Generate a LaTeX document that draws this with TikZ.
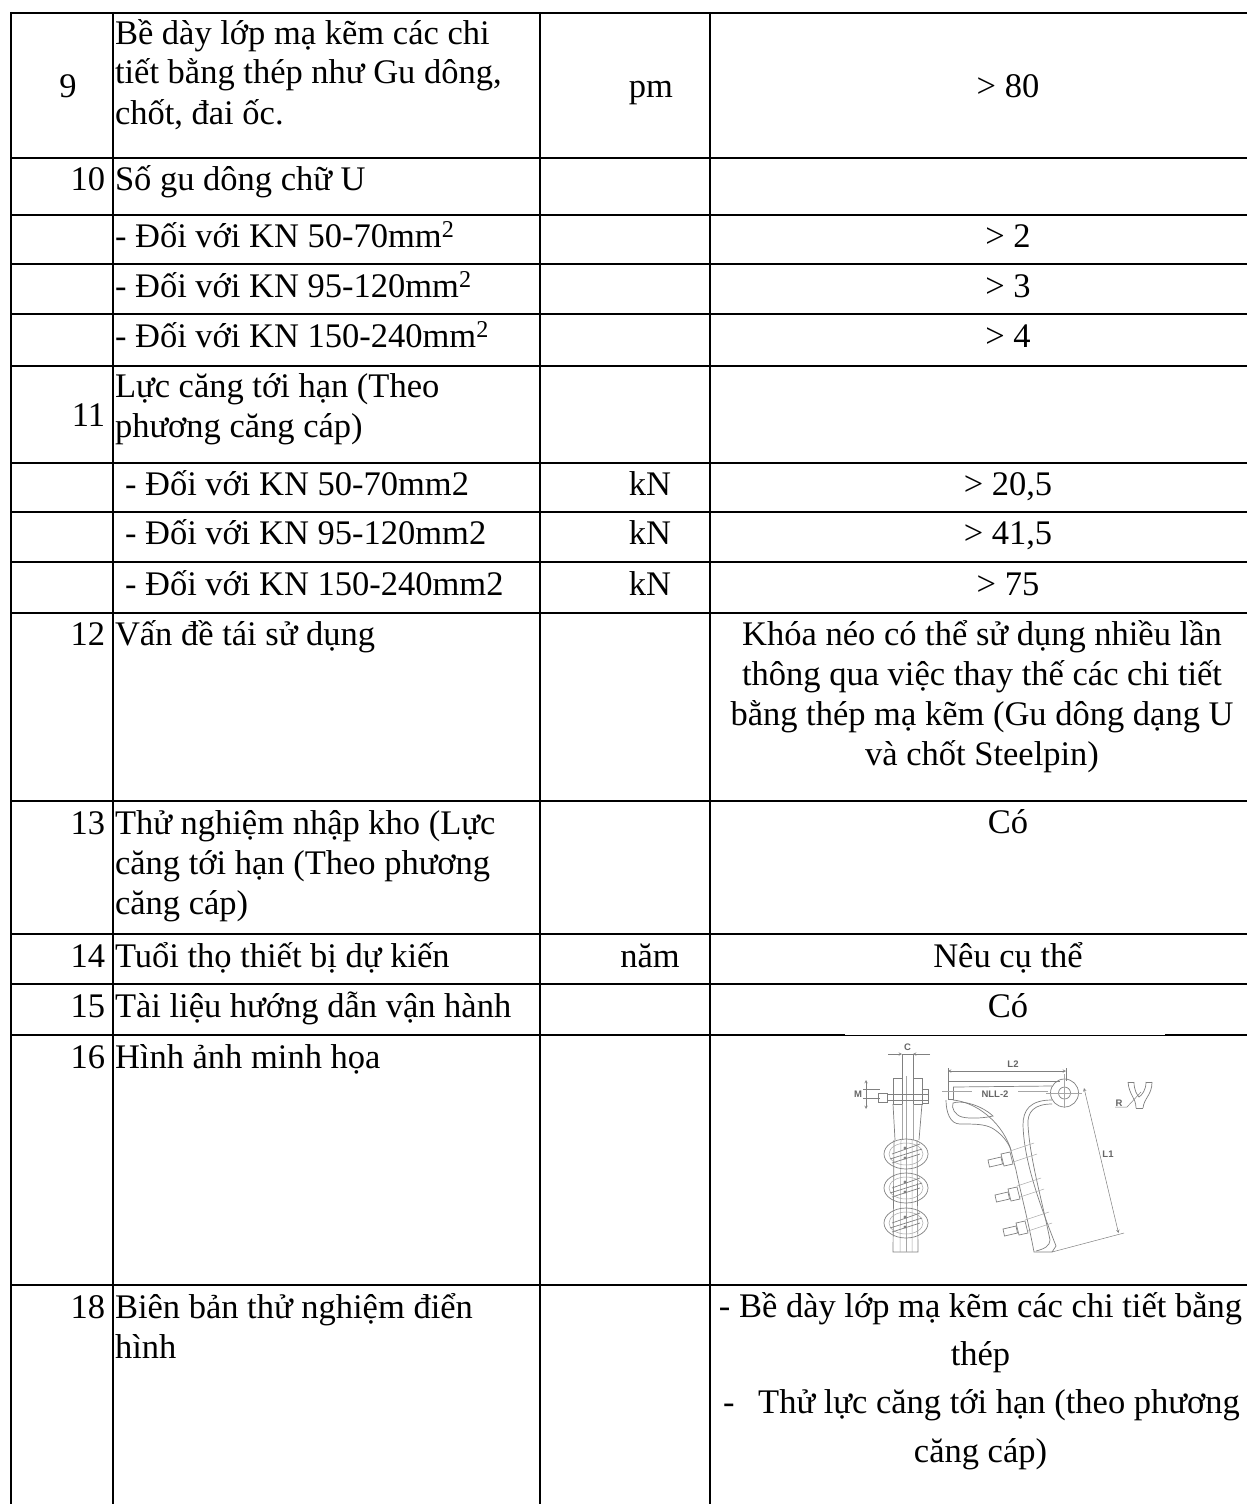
\documentclass[tikz,border=0pt]{standalone}
\usepackage{fontspec}
\setmainfont{Liberation Serif}
\newfontfamily\labelfont{Liberation Sans}
\tikzset{
  rule/.style={line width=2pt,black},
  cell/.style={inner sep=0pt,outer sep=0pt,font=\fontsize{34.5}{40}\selectfont,text=black},
  lft/.style={cell,anchor=base west,align=left},
  ctr/.style={cell,anchor=base,align=center},
  rgt/.style={cell,anchor=base east},
  ink/.style={line width=0.7pt,black!50},
  inkthin/.style={line width=0.5pt,black!35},
  dim/.style={line width=0.5pt,black!50},
  tag/.style={inner sep=0pt,font=\labelfont\fontsize{9.5}{10}\selectfont\bfseries,text=black!60}
}
\begin{document}
\begin{tikzpicture}[x=1pt,y=-1pt]
\useasboundingbox (0,0) rectangle (1247,1504);
\fill[white] (0,0) rectangle (1247,1504);
% grid
\foreach \yy in {13,158,215,264,314,366,463,512,562,613,801,934,984,1035,1285}
  \draw[rule] (10,\yy) -- (1247,\yy);
\foreach \xx in {10.5,113,540,710}
  \draw[rule] (\xx,12) -- (\xx,1504);
% column 1
\node[ctr] (n9) at (68,97) {9};
\node[rgt] (n10) at (105,190) {10};
\node[rgt] (n11) at (105,426) {11};
\node[rgt] (n12) at (105,645) {12};
\node[rgt] (n13) at (105,834) {13};
\node[rgt] (n14) at (105,967) {14};
\node[rgt] (n15) at (105,1017) {15};
\node[rgt] (n16) at (105,1068) {16};
\node[rgt] (n18) at (105,1318) {18};
% column 2
\node[lft] (t9) at (115,124) {Bề dày lớp mạ kẽm các chi\\tiết bằng thép như Gu dông,\\chốt, đai ốc.};
\node[lft] (t10) at (115,190) {Số gu dông chữ U};
\node[lft] (t10a) at (115,247) {- Đối với KN 50-70mm\textsuperscript{2}};
\node[lft] (t10b) at (115,297) {- Đối với KN 95-120mm\textsuperscript{2}};
\node[lft] (t10c) at (115,347) {- Đối với KN 150-240mm\textsuperscript{2}};
\node[lft] (t11) at (115,437) {Lực căng tới hạn (Theo\\phương căng cáp)};
\node[lft] (t11a) at (125,495) {- Đối với KN 50-70mm2};
\node[lft] (t11b) at (125,544) {- Đối với KN 95-120mm2};
\node[lft] (t11c) at (125,595) {- Đối với KN 150-240mm2};
\node[lft] (t12) at (115,645) {Vấn đề tái sử dụng};
\node[lft] (t13) at (115,914) {Thử nghiệm nhập kho (Lực\\căng tới hạn (Theo phương\\căng cáp)};
\node[lft] (t14) at (115,967) {Tuổi thọ thiết bị dự kiến};
\node[lft] (t15) at (115,1017) {Tài liệu hướng dẫn vận hành};
\node[lft] (t16) at (115,1068) {Hình ảnh minh họa};
\node[lft] (t18) at (115,1358) {Biên bản thử nghiệm điển\\hình};
% column 3
\node[ctr] (u9) at (651,97) {pm};
\node[ctr] (u11a) at (650,495) {kN};
\node[ctr] (u11b) at (650,544) {kN};
\node[ctr] (u11c) at (650,595) {kN};
\node[ctr] (u14) at (650,967) {năm};
% column 4
\node[ctr] (v9) at (1008,97) {> 80};
\node[ctr] (v10a) at (1008,247) {> 2};
\node[ctr] (v10b) at (1008,297) {> 3};
\node[ctr] (v10c) at (1008,347) {> 4};
\node[ctr] (v11a) at (1008,495) {> 20,5};
\node[ctr] (v11b) at (1008,544) {> 41,5};
\node[ctr] (v11c) at (1008,595) {> 75};
\node[ctr] (v12) at (982,765) {Khóa néo có thể sử dụng nhiều lần\\thông qua việc thay thế các chi tiết\\bằng thép mạ kẽm (Gu dông dạng U\\và chốt Steelpin)};
\node[ctr] (v13) at (1008,833) {Có};
\node[ctr] (v14) at (1008,967) {Nêu cụ thể};
\node[ctr] (v15) at (1008,1017) {Có};
\node[ctr] (v18a) at (980.5,1317) {- Bề dày lớp mạ kẽm các chi tiết bằng};
\node[ctr] (v18b) at (980.5,1365) {thép};
\node[ctr] (v18c) at (981.5,1413) {-\hspace{23.5pt}Thử lực căng tới hạn (theo phương};
\node[ctr] (v18d) at (980.5,1462) {căng cáp)};
% the picture lies over the rule here, which is thin
\fill[white] (845,1034) rectangle (1165,1037);
\draw[line width=1pt,black] (845,1035) -- (1165,1035);
% left view: plates
\draw[ink] (893,1078) rectangle (902,1104);
\draw[ink] (913,1078) rectangle (922,1104);
\draw[ink] (893,1104) -- (895,1140) (922,1104) -- (919,1140);
\draw[inkthin] (902,1104) -- (902,1140) (913,1104) -- (913,1140);
\draw[ink] (894,1140) -- (893,1252) -- (918,1252) -- (917,1140);
\draw[inkthin] (901,1140) -- (900,1252) (912,1140) -- (912,1252);
\draw[inkthin] (906,1076) -- (906,1252);
% bolt
\draw[ink] (878,1093) rectangle (887,1102);
\draw[ink] (887,1094) -- (928,1094) (887,1100) -- (928,1100);
\draw[ink] (922,1089) rectangle (928,1103);
% loops
\foreach \yy in {1154,1188,1223}{
  \draw[ink] (906,\yy) ellipse[x radius=22,y radius=15];
  \draw[inkthin] (906,\yy) ellipse[x radius=17,y radius=11];
  \draw[ink] (890,\yy+5) -- (922,\yy-5);
  \draw[ink] (892,\yy) -- (920,\yy-10);
  \draw[ink] (892,\yy+9) -- (920,\yy);
  \fill[black!50] (905,\yy-6) circle[radius=1.6] (905,\yy+4) circle[radius=1.6];
}
% dimension C
\node[tag] (lc) at (907.5,1047) {C};
\coordinate (cL) at (888,1054);
\coordinate (cR) at (930,1054);
\coordinate (cA) at (902,1054);
\coordinate (cB) at (913,1054);
\draw[dim,->,>=stealth] (cL) -- (cA);
\draw[dim,->,>=stealth] (cR) -- (cB);
\draw[dim] (cA) -- (cB) (cA) -- (902,1085) (cB) -- (913,1085);
% dimension M
\node[tag] (lm) at (858,1094) {M};
\draw[dim,<->,>=stealth] (866,1080) -- (866,1109);
\draw[dim] (863,1089) -- (880,1089) (863,1098) -- (880,1098);
% main body: top bar
\draw[ink] (948,1081) -- (1060,1081);
\draw[ink] (953,1087) -- (1052,1086);
\draw[ink] (948,1081) -- (948,1099) -- (953,1099) -- (953,1087);
\draw[inkthin] (942,1091) -- (972,1091) (1018,1091) -- (1048,1091);
\node[tag] (lname) at (995,1094) {NLL-2};
\draw[ink] (1064.5,1093) circle[radius=14];
\draw[ink] (1064.5,1093) circle[radius=6];
\draw[inkthin] (1064.5,1074) -- (1064.5,1108) (1046,1093) -- (1082,1093);
% main body: outline
\draw[ink] (946,1100) .. controls (946,1112) and (950,1124) .. (960,1124) .. controls (975,1124) and (984,1124) .. (992,1128) .. controls (1002,1134) and (1008,1142) .. (1011,1150);
\draw[ink] (953,1100) .. controls (975,1102) and (1000,1120) .. (1010,1147) -- (1016,1170) .. controls (1020,1190) and (1028,1220) .. (1034,1252) -- (1052,1252);
\draw[ink] (953,1103) .. controls (960,1100) and (980,1104) .. (993,1116) .. controls (985,1118) and (970,1119) .. (962,1117) .. controls (955,1115) and (951,1108) .. (953,1103);
\draw[ink] (1052,1100) .. controls (1030,1100) and (1023,1110) .. (1023,1125) .. controls (1024,1160) and (1038,1200) .. (1056,1246) -- (1052,1252);
\draw[ink] (1052,1104) .. controls (1034,1104) and (1027,1112) .. (1028,1125) .. controls (1030,1160) and (1042,1200) .. (1050,1240) .. controls (1050,1246) and (1044,1249) .. (1036,1251);
% main body: bolts
\foreach \xa/\ya in {988/1163,995/1198,1003/1232}{
  \draw[ink] (\xa,\ya-3) -- ++(1.5,7) -- ++(13,-3) -- ++(-1.5,-7) -- cycle;
  \draw[ink] (\xa+13,\ya-9) -- ++(9,-2) -- ++(3,12) -- ++(-9,2) -- cycle;
  \draw[inkthin] (\xa+22,\ya-12) -- ++(24,-8);
  \draw[inkthin] (\xa+25,\ya-1) -- ++(24,-8);
}
% dimension L2
\node[tag] (ll2) at (1013,1064) {L2};
\draw[dim,<->,>=stealth] (948,1071) -- (1066,1071);
\draw[dim] (948,1068) -- (948,1081) (1066,1068) -- (1066,1081);
% dimension L1
\node[tag] (ll1) at (1108,1154) {L1};
\draw[dim,<->,>=stealth] (1084,1088) -- (1118.5,1233);
\draw[dim] (1052,1252) -- (1124,1233);
% radius detail
\node[tag] (lr) at (1119,1103) {R};
\draw[dim] (1115,1107) -- (1127,1107) -- (1141,1092);
\draw[ink] (1128,1082) .. controls (1129,1095) and (1136,1098) .. (1136,1108);
\draw[ink] (1152,1082) .. controls (1152,1095) and (1144,1098) .. (1143,1108);
\draw[ink] (1134,1082) .. controls (1134,1090) and (1137,1095) .. (1139,1097) .. controls (1142,1095) and (1146,1090) .. (1146,1082);
\draw[ink] (1128,1082) -- (1134,1082) (1146,1082) -- (1152,1082) (1136,1108) -- (1143,1108);
\end{tikzpicture}
\end{document}
